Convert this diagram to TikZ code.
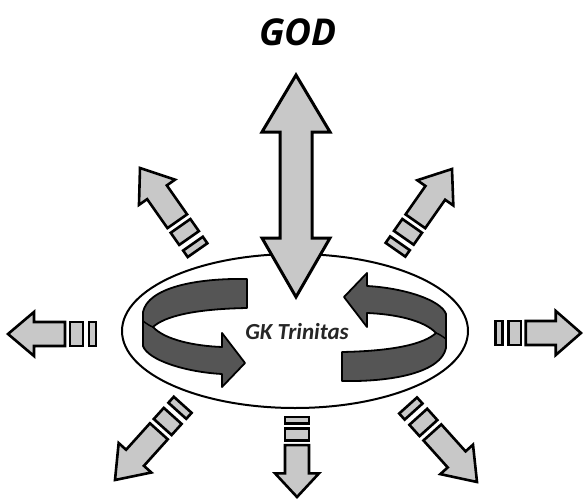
\documentclass[tikz,border=0pt]{standalone}
\usepackage{fontspec}
\newfontfamily\godfont{Open Sans}
\newfontfamily\gkfont{Carlito}
\begin{document}
\begin{tikzpicture}[x=1pt,y=-1pt,
  arr/.style={draw=black,fill=lightgr,line width=2.6pt,line join=miter},
  ribbon/.style={draw=black,fill=ribbongr,line width=1.8pt,line join=round},
  ring/.style={draw=black,line width=2pt}]
\definecolor{lightgr}{HTML}{C8C8C8}
\definecolor{ribbongr}{HTML}{555555}
\useasboundingbox (0,0) rectangle (583,500);
\fill[white] (0,0) rectangle (583,500);
\newcommand\smallarrow[4]{%
  \begin{scope}[shift={(#1,#2)},rotate=#3,xscale=#4]
    \draw[arr] (0,0) -- (-26,22) -- (-26,12) -- (-57,12) -- (-57,-12) -- (-26,-12) -- (-26,-22) -- cycle;
    \draw[arr] (-62,-12) rectangle (-75,12);
    \draw[arr] (-81,-12) rectangle (-88,12);
  \end{scope}}
\newcommand\ribbonpath{%
  (247,279) .. controls (195,278) and (148,288) .. (143,312)
  -- (143,346) .. controls (148,360) and (185,372) .. (222,374)
  -- (222,387) -- (245,363) -- (222,333) -- (222,347)
  .. controls (195,346) and (165,340) .. (153,327)
  .. controls (165,316) and (195,309) .. (247,308) -- cycle}
% ellipse
\draw[ring] (295,331) ellipse [x radius=173, y radius=77];
% ribbons
\draw[ribbon] \ribbonpath;
\draw[line width=1.5pt] (143,321) .. controls (147,324) and (150,326) .. (153,327);
\begin{scope}[rotate around={180:(294.5,330)}]
  \draw[ribbon] \ribbonpath;
  \draw[line width=1.5pt] (143,321) .. controls (147,324) and (150,326) .. (153,327);
\end{scope}
% central double arrow
\draw[arr,line width=3pt] (296,75) -- (330,132) -- (312,132) -- (312,238) -- (330,238) -- (296,297)
  -- (262,238) -- (280,238) -- (280,132) -- (262,132) -- cycle;
% texts
\node (god) at (298,32) {\godfont\bfseries\itshape\fontsize{37}{40}\selectfont GOD};
\node (gk) at (297,332) {\gkfont\bfseries\itshape\fontsize{23}{26}\selectfont\color{black!85} GK Trinitas};
% outer arrows
\smallarrow{8}{334}{180}{1.0}
\smallarrow{581}{333}{0}{0.97}
\smallarrow{297}{497}{270}{0.91}
\smallarrow{140}{168}{125}{1.14}
\smallarrow{452}{169}{55}{1.12}
\smallarrow{115}{480}{228}{1.15}
\smallarrow{477}{482}{312}{1.17}
\end{tikzpicture}
\end{document}
